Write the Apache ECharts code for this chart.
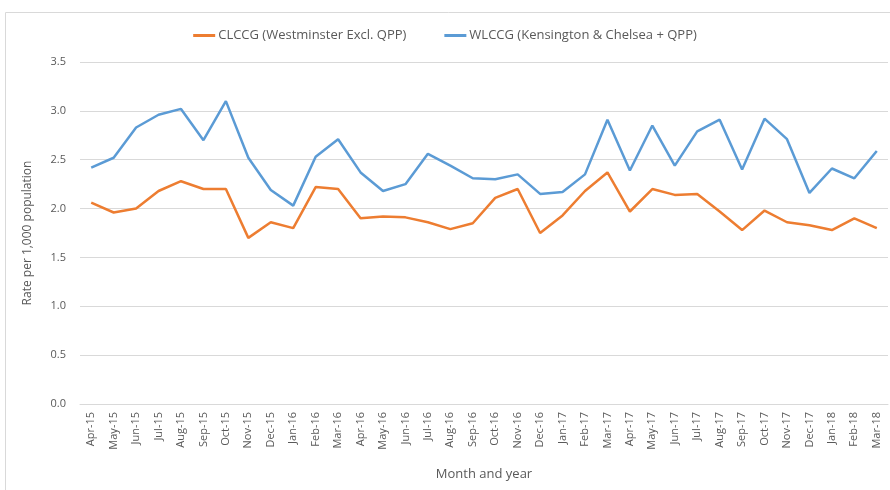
<!DOCTYPE html>
<html>
<head>
<meta charset="utf-8">
<script src="https://cdn.jsdelivr.net/npm/echarts@6/dist/echarts.min.js"></script>
<style>
  html, body { margin: 0; padding: 0; background: #fff; }
  #chart { width: 890px; height: 490px; }
</style>
</head>
<body>
<div id="chart"></div>
<script>
// month labels along the x axis
const months = [
  "Apr-15", "May-15", "Jun-15", "Jul-15", "Aug-15", "Sep-15", "Oct-15", "Nov-15", "Dec-15",
  "Jan-16", "Feb-16", "Mar-16", "Apr-16", "May-16", "Jun-16", "Jul-16", "Aug-16", "Sep-16",
  "Oct-16", "Nov-16", "Dec-16", "Jan-17", "Feb-17", "Mar-17", "Apr-17", "May-17", "Jun-17",
  "Jul-17", "Aug-17", "Sep-17", "Oct-17", "Nov-17", "Dec-17", "Jan-18", "Feb-18", "Mar-18"
];
const clccgName = "CLCCG (Westminster Excl. QPP)";
const wlccgName = "WLCCG (Kensington & Chelsea + QPP)";
// rate per 1,000 population
const clccg = [
  2.06, 1.96, 2.00, 2.18, 2.28, 2.20, 2.20, 1.70, 1.86,
  1.80, 2.22, 2.20, 1.90, 1.92, 1.91, 1.86, 1.79, 1.85,
  2.11, 2.20, 1.75, 1.93, 2.18, 2.37, 1.97, 2.20, 2.14,
  2.15, 1.97, 1.78, 1.98, 1.86, 1.83, 1.78, 1.90, 1.80
];
const wlccg = [
  2.42, 2.52, 2.83, 2.96, 3.02, 2.70, 3.10, 2.52, 2.19,
  2.03, 2.53, 2.71, 2.37, 2.18, 2.25, 2.56, 2.44, 2.31,
  2.30, 2.35, 2.15, 2.17, 2.35, 2.91, 2.39, 2.85, 2.44,
  2.79, 2.91, 2.40, 2.92, 2.71, 2.16, 2.41, 2.31, 2.59
];

const chart = echarts.init(document.getElementById("chart"));
const font = "Open Sans";
const textColor = "#595959";

chart.setOption({
  animation: false,
  textStyle: { fontFamily: font },
  color: ["#ED7D31", "#5B9BD5"],
  graphic: [{
    type: "rect",
    shape: { x: 5.5, y: 12.5, width: 890, height: 490 },
    style: { fill: "none", stroke: "#d9d9d9", lineWidth: 1 },
    silent: true
  }],
  legend: {
    top: 24,
    left: "center",
    itemGap: 38,
    itemWidth: 22,
    itemHeight: 3,
    icon: "rect",
    textStyle: { fontFamily: font, fontSize: 13, color: textColor, padding: [0, 0, 0, -2] },
    data: [clccgName, wlccgName]
  },
  grid: { left: 80, right: 2, top: 62, bottom: 86 },
  xAxis: {
    type: "category",
    data: months,
    boundaryGap: true,
    name: "Month and year",
    nameLocation: "middle",
    nameGap: 64,
    nameTextStyle: { fontFamily: font, fontSize: 13, color: textColor },
    axisLine: { lineStyle: { color: "#d9d9d9" } },
    axisTick: { show: false },
    axisLabel: {
      rotate: 90,
      interval: 0,
      fontFamily: font,
      fontSize: 11,
      color: textColor,
      margin: 8
    }
  },
  yAxis: {
    type: "value",
    min: 0,
    max: 3.5,
    interval: 0.5,
    name: "Rate per 1,000 population",
    nameLocation: "middle",
    nameGap: 46,
    nameTextStyle: { fontFamily: font, fontSize: 12, color: textColor },
    axisLine: { show: false },
    axisTick: { show: false },
    splitLine: { lineStyle: { color: "#d9d9d9", width: 1 } },
    axisLabel: {
      fontFamily: font,
      fontSize: 11,
      color: textColor,
      margin: 14,
      formatter: (v) => v.toFixed(1)
    }
  },
  series: [
    {
      name: clccgName,
      type: "line",
      data: clccg,
      symbol: "none",
      lineStyle: { width: 2.5 }
    },
    {
      name: wlccgName,
      type: "line",
      data: wlccg,
      symbol: "none",
      lineStyle: { width: 2.5 }
    }
  ]
});
</script>
</body>
</html>
